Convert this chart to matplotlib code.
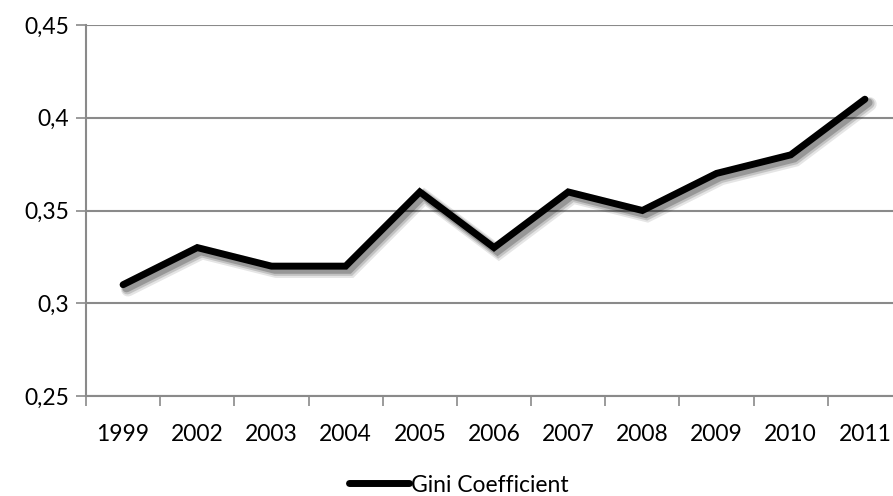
import numpy as np
import matplotlib
matplotlib.use("Agg")
import matplotlib.pyplot as plt
import matplotlib.patheffects as pe
from matplotlib.lines import Line2D


years = ["1999", "2002", "2003", "2004", "2005", "2006",
         "2007", "2008", "2009", "2010", "2011"]
gini = [0.31, 0.33, 0.32, 0.32, 0.36, 0.33, 0.36, 0.35, 0.37, 0.38, 0.41]
yticks = [0.25, 0.30, 0.35, 0.40, 0.45]
ylabels = ["0,25", "0,3", "0,35", "0,4", "0,45"]

plt.rcParams["font.family"] = ["Lato", "DejaVu Sans"]
gridcolor = "#8a8a8a"
fsize = 16.5

fig = plt.figure(figsize=(8.93, 4.96), dpi=100)
ax = fig.add_axes([86 / 893, 1 - 396 / 496, 816 / 893, 371 / 496])

x = np.arange(len(years))

# soft drop shadow under the line, built from a few offset layers
shadow = [
    pe.SimpleLineShadow(offset=(3.5, -3.5), shadow_color="#000000", alpha=0.10, linewidth=10),
    pe.SimpleLineShadow(offset=(3, -3), shadow_color="#000000", alpha=0.15, linewidth=8),
    pe.SimpleLineShadow(offset=(2.5, -2.5), shadow_color="#000000", alpha=0.22, linewidth=6),
    pe.Normal(),
]
ax.plot(x, gini, color="black", linewidth=5, solid_joinstyle="miter",
        solid_capstyle="round", path_effects=shadow, zorder=3)

ax.set_xlim(-0.5, len(years) - 0.5)
ax.set_ylim(0.25, 0.45)

ax.set_yticks(yticks)
ax.set_yticklabels(ylabels, fontsize=fsize)
ax.tick_params(axis="y", length=7, width=1.2, color=gridcolor, pad=5)

ax.set_xticks(x)
ax.set_xticklabels(years, fontsize=fsize)
ax.set_xticks(np.arange(len(years) + 1) - 0.5, minor=True)
ax.tick_params(axis="x", which="major", length=0, pad=20)
ax.tick_params(axis="x", which="minor", length=7, width=1.2, color=gridcolor)

ax.grid(axis="y", color=gridcolor, linewidth=1.5)
ax.set_axisbelow(True)
for side in ["top", "right"]:
    ax.spines[side].set_visible(False)
for side in ["left", "bottom"]:
    ax.spines[side].set_color(gridcolor)
    ax.spines[side].set_linewidth(1.5)

# legend key without the shadow
key = Line2D([], [], color="black", linewidth=5, solid_capstyle="round")
fig.legend([key], ["Gini Coefficient"], loc="center",
           bbox_to_anchor=(459 / 893, 1 - 485 / 496), frameon=False,
           fontsize=fsize, handlelength=2.6, handletextpad=0.1, borderpad=0)

fig.savefig("out.png", dpi=100)
